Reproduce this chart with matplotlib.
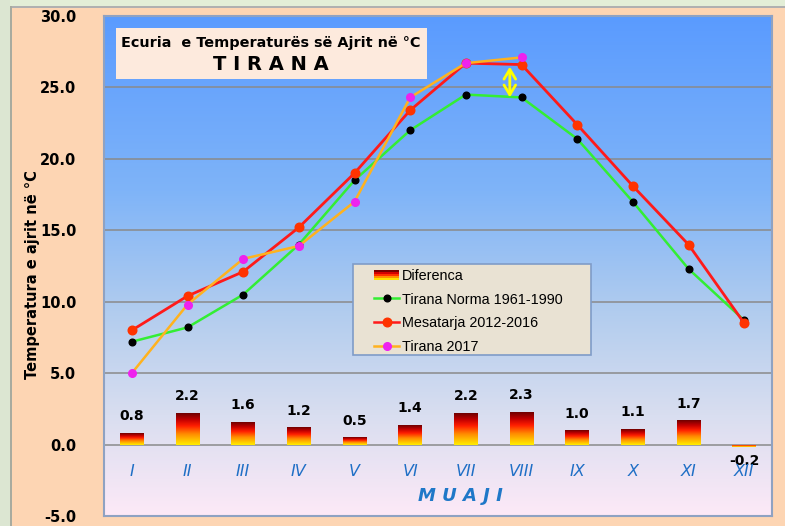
import numpy as np
import matplotlib
matplotlib.use("Agg")
import matplotlib.pyplot as plt
from matplotlib.colors import LinearSegmentedColormap
from matplotlib.patches import Rectangle
from matplotlib.lines import Line2D
from matplotlib.legend_handler import HandlerBase

# ---------------- data ----------------
months = ["I", "II", "III", "IV", "V", "VI", "VII", "VIII", "IX", "X", "XI", "XII"]
norma = [7.2, 8.2, 10.5, 14.0, 18.5, 22.0, 24.5, 24.3, 21.4, 17.0, 12.3, 8.7]
mesatarja = [8.0, 10.4, 12.1, 15.2, 19.0, 23.4, 26.7, 26.6, 22.4, 18.1, 14.0, 8.5]
tirana2017 = [5.0, 9.8, 13.0, 13.9, 17.0, 24.3, 26.7, 27.1]
diferenca = [0.8, 2.2, 1.6, 1.2, 0.5, 1.4, 2.2, 2.3, 1.0, 1.1, 1.7, -0.2]
yticks = [-5, 0, 5, 10, 15, 20, 25, 30]

title1 = "Ecuria  e Temperaturës së Ajrit në °C"
title2 = "T I R A N A"
ylabel = "Temperatura e ajrit në °C"
xlabel = "M U A J I"
legend_labels = ["Diferenca", "Tirana Norma 1961-1990", "Mesatarja 2012-2016", "Tirana 2017"]

# ---------------- figure ----------------
W, H = 785, 526
fig = plt.figure(figsize=(W / 100, H / 100), dpi=100)
fig.patch.set_facecolor("#fdd5b3")

def fx(px):
    return px / W

def fy(py):
    return 1 - py / H

# outer light-green margins with grey edge
fig.add_artist(Rectangle((0, fy(6)), 1, 6 / H, transform=fig.transFigure,
                         facecolor="#e3eed7", edgecolor="none", zorder=-5))
fig.add_artist(Rectangle((0, fy(8)), 1, 2 / H, transform=fig.transFigure,
                         facecolor="#b0b0b0", edgecolor="none", zorder=-5))
fig.add_artist(Rectangle((0, 0), fx(10), 1, transform=fig.transFigure,
                         facecolor="#dce6d2", edgecolor="none", zorder=-5))
fig.add_artist(Rectangle((fx(10), 0), fx(2), fy(6), transform=fig.transFigure,
                         facecolor="#a8ab9f", edgecolor="none", zorder=-5))

ax = fig.add_axes([fx(104), fy(516), fx(772) - fx(104), fy(16) - fy(516)])
x = np.arange(len(months))

def axx(px):
    return (px - 104) / 668

def axy(py):
    return (516 - py) / 500

# background gradient of plotting area
bg_cmap = LinearSegmentedColormap.from_list(
    "bg", [(0.0, "#5a9bff"), (0.35, "#7fb4f8"), (0.6, "#b3cdee"),
           (0.8, "#d9def0"), (1.0, "#fde9f7")])
grad = np.linspace(0, 1, 256).reshape(-1, 1)
ax.imshow(grad, cmap=bg_cmap, extent=[0, 1, 0, 1], transform=ax.transAxes,
          aspect="auto", origin="upper", zorder=0)

# grid lines
for t in yticks:
    ax.axhline(t, color="#8a8a8a", lw=1.1, zorder=1)

# gradient bars
bar_cmap = LinearSegmentedColormap.from_list(
    "bar", [(0.0, "#ffef00"), (0.35, "#ff8a00"), (0.6, "#ff1e00"),
            (0.8, "#c00000"), (1.0, "#6e0000")])
bars = ax.bar(x, diferenca, width=0.42, color="none", edgecolor="none", zorder=3)
for b in bars:
    bx, by, bw, bh = b.get_x(), b.get_y(), b.get_width(), b.get_height()
    y0, y1 = (by, by + bh) if bh >= 0 else (by + bh, by)
    im = ax.imshow(grad, cmap=bar_cmap, extent=[bx, bx + bw, y0, y1],
                   aspect="auto", origin="lower", zorder=3)
    im.set_clip_path(b)

for xi, v in zip(x, diferenca):
    ax.annotate(f"{v:.1f}", (xi, v), xytext=(0, 12 if v >= 0 else -10),
                textcoords="offset points", ha="center", va="center",
                fontsize=10, fontweight="bold", color="black", zorder=6)

# lines
ax.plot(x, norma, color="#33ee33", lw=1.8, marker="o", ms=4.8,
        mfc="black", mec="black", zorder=4)
ax.plot(x, mesatarja, color="#ff1a1a", lw=2.0, marker="o", ms=6.2,
        mfc="#ff3300", mec="#ff3300", zorder=4)
ax.plot(x[:len(tirana2017)], tirana2017, color="#ffb21e", lw=1.8, marker="o",
        ms=5.5, mfc="#ee22ee", mec="#ee22ee", zorder=5)

# yellow double arrow
ax.annotate("", xy=(6.79, 26.45), xytext=(6.79, 24.3),
            arrowprops=dict(arrowstyle="<->,head_length=0.5,head_width=0.3",
                            color="#ffff00", lw=2, mutation_scale=14,
                            shrinkA=0, shrinkB=0), zorder=6)

# axes limits and ticks
ax.set_xlim(-0.5, 11.5)
ax.set_ylim(-5, 30)
ax.set_yticks(yticks)
ax.set_yticklabels([f"{t:.1f}" for t in yticks], fontsize=10.5, fontweight="bold")
ax.tick_params(axis="y", length=0, pad=20)
ax.set_xticks([])
for s in ax.spines.values():
    s.set_color("#8fa2c2")
    s.set_linewidth(1.5)

# month labels inside plot
for xi, m in zip(x, months):
    ax.text(xi, -1.9, m, ha="center", va="center", fontsize=11.5,
            style="italic", color="#1f6fc6", zorder=6)
ax.text(5.9, -3.6, xlabel, ha="center", va="center", fontsize=13,
        style="italic", fontweight="bold", color="#1f78c8", zorder=6)

fig.text(fx(33), fy(275), ylabel, rotation=90, ha="center", va="center",
         fontsize=10.5, fontweight="bold")

# title box
fig.add_artist(Rectangle((fx(116), fy(79)), fx(427) - fx(116), (79 - 28) / H,
                         transform=fig.transFigure, facecolor="#fdeadd",
                         edgecolor="none", zorder=5))
fig.text(fx(271), fy(43), title1, ha="center", va="center", fontsize=10.4,
         fontweight="bold", zorder=6)
fig.text(fx(271), fy(64), title2, ha="center", va="center", fontsize=14,
         fontweight="bold", zorder=6)

# legend
class GradientHandler(HandlerBase):
    def create_artists(self, legend, orig_handle, xdescent, ydescent,
                       width, height, fontsize, trans):
        cols = ["#7a0000", "#d40000", "#ff3000", "#ff9000", "#ffe000"]
        arts = []
        n = len(cols)
        for i, c in enumerate(cols):
            r = Rectangle((-xdescent, -ydescent + height * (n - 1 - i) / n),
                          width, height / n, facecolor=c, edgecolor="none",
                          transform=trans)
            arts.append(r)
        return arts

legend_box = Rectangle((axx(353), axy(355)), axx(591) - axx(353), axy(264) - axy(355),
                       transform=ax.transAxes, facecolor="#e9e2d3",
                       edgecolor="#7f9cc8", lw=1.2, zorder=6.5)
ax.add_patch(legend_box)

grad_handle = Rectangle((0, 0), 1, 1)
h1 = Line2D([], [], color="#33ee33", lw=1.8, marker="o", ms=4.8, mfc="black", mec="black")
h2 = Line2D([], [], color="#ff1a1a", lw=1.8, marker="o", ms=6.2, mfc="#ff3300", mec="#ff3300")
h3 = Line2D([], [], color="#ffb21e", lw=1.8, marker="o", ms=5.5, mfc="#ee22ee", mec="#ee22ee")
leg = ax.legend([grad_handle, h1, h2, h3], legend_labels,
                handler_map={Rectangle: GradientHandler()},
                loc="upper left",
                bbox_to_anchor=(axx(374), axy(269)),
                prop={"family": "Liberation Sans", "size": 10.4},
                frameon=False, handlelength=1.75,
                handletextpad=0.2, labelspacing=0.66, borderpad=0,
                borderaxespad=0)
leg.set_zorder(7)

fig.savefig("out.png", dpi=100, facecolor=fig.get_facecolor())
